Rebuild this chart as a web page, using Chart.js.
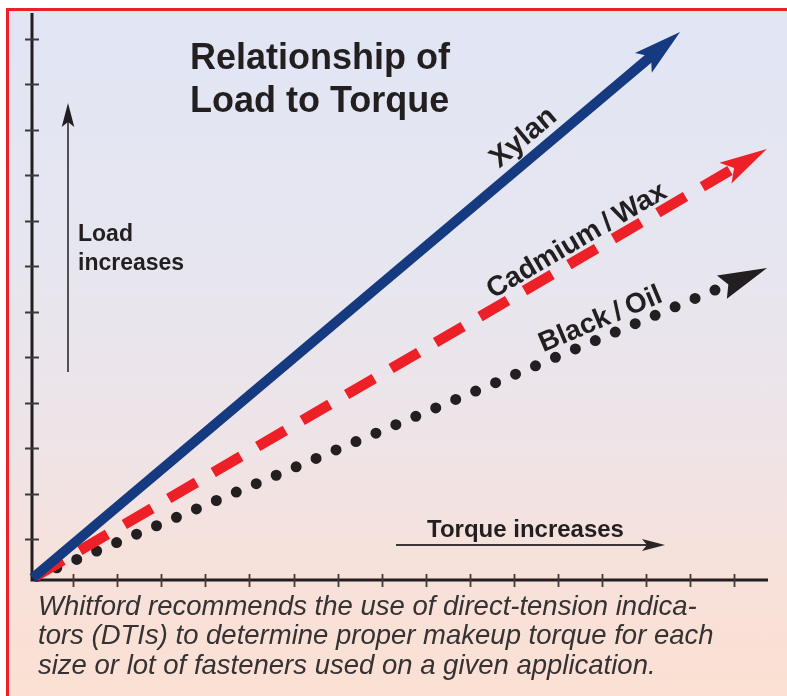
<!DOCTYPE html>
<html>
<head>
<meta charset="utf-8">
<script src="https://cdn.jsdelivr.net/npm/chart.js@4.4.1/dist/chart.umd.min.js"></script>
<style>
  html, body { margin: 0; padding: 0; background: #fff; }
  #frame {
    position: absolute; left: 6px; top: 8px; width: 781px; height: 688px;
    box-sizing: border-box;
    border-top: 3px solid #ee2027; border-left: 3px solid #ee2027;
    background: linear-gradient(to bottom, #e1e5f4 0%, #e6e6f0 35%, #eee4e8 62%, #f7e1da 82%, #fbe0d3 100%);
  }
  canvas { position: absolute; left: 0; top: 0; }
</style>
</head>
<body>
<div id="frame"></div>
<canvas id="myChart" width="787" height="696"></canvas>
<script>
// axis ticks (no numbers in the picture, just marks)
const torqueTicks = [1, 2, 3, 4, 5, 6, 7, 8, 9, 10, 11, 12, 13, 14, 15, 16];
const loadTicks = [1, 2, 3, 4, 5, 6, 7, 8, 9, 10, 11, 12];

const seriesNames = ['Xylan', 'Cadmium/Wax', 'Black/Oil'];
// start and end of each straight line, in tick units
const xylanTorque = [0.08, 14.15];
const xylanLoad = [0.15, 11.64];
const cadmiumTorque = [0.08, 16.04];
const cadmiumLoad = [0.15, 9.18];
const blackTorque = [0.08, 15.62];
const blackLoad = [0.15, 6.50];

const captionLines = [
  'Whitford recommends the use of direct-tension indica-',
  'tors (DTIs) to determine proper makeup torque for each',
  'size or lot of fasteners used on a given application.'
];

const FONT = '"Liberation Sans", Arial, sans-serif';
const INK = '#231f20';

function points(xs, ys) {
  return xs.map((v, i) => ({ x: v, y: ys[i] }));
}

function arrowHead(ctx, x, y, ang, reach, len, half, notch) {
  ctx.save();
  ctx.translate(x, y);
  ctx.rotate(ang);
  ctx.beginPath();
  ctx.moveTo(reach, 0);
  ctx.lineTo(reach - len, -half);
  ctx.lineTo(reach - len + notch, 0);
  ctx.lineTo(reach - len, half);
  ctx.closePath();
  ctx.fill();
  ctx.restore();
}

// axis lines with ticks crossing them
const axesPlugin = {
  id: 'axes',
  beforeDatasetsDraw(chart) {
    const { ctx, chartArea: a, scales: { x, y } } = chart;
    ctx.save();
    ctx.strokeStyle = INK;
    ctx.lineWidth = 3;
    ctx.beginPath();
    ctx.moveTo(a.left, a.top);
    ctx.lineTo(a.left, a.bottom);
    ctx.lineTo(a.right, a.bottom);
    ctx.stroke();
    ctx.strokeStyle = '#3d3a3b';
    ctx.lineWidth = 1.8;
    ctx.beginPath();
    torqueTicks.forEach(v => {
      const px = Math.round(x.getPixelForValue(v)) + 0.5;
      ctx.moveTo(px, a.bottom - 6);
      ctx.lineTo(px, a.bottom + 7);
    });
    loadTicks.forEach(v => {
      const py = Math.round(y.getPixelForValue(v)) + 0.5;
      ctx.moveTo(a.left - 7, py);
      ctx.lineTo(a.left + 7, py);
    });
    ctx.stroke();
    ctx.restore();
  }
};

// arrow heads at the end of every series, and the names along the lines
const lineDecor = {
  id: 'lineDecor',
  afterDatasetsDraw(chart, args, opts) {
    const { ctx, scales: { x, y } } = chart;
    chart.data.datasets.forEach((ds, i) => {
      const pts = chart.getDatasetMeta(i).data;
      const p = pts[pts.length - 1], q = pts[pts.length - 2];
      const ang = Math.atan2(p.y - q.y, p.x - q.x);
      const h = ds.head;
      ctx.fillStyle = ds.borderColor;
      arrowHead(ctx, p.x, p.y, ang, h.reach, h.len, h.half, h.notch);

      const lab = opts.labels[i];
      ctx.save();
      ctx.translate(x.getPixelForValue(lab.x), y.getPixelForValue(lab.y));
      ctx.rotate(ang);
      ctx.fillStyle = INK;
      ctx.font = 'bold ' + lab.size + 'px ' + FONT;
      ctx.textAlign = 'center';
      ctx.textBaseline = 'alphabetic';
      ctx.fillText(ds.label.replace('/', '\u2009/\u2009'), 0, 0);
      ctx.restore();
    });
  },
  afterDraw(chart) {
    const ctx = chart.ctx;
    ctx.save();
    ctx.fillStyle = INK;
    ctx.textAlign = 'left';
    ctx.textBaseline = 'alphabetic';
    ctx.font = 'bold 36px ' + FONT;
    ctx.fillText('Relationship of', 190, 69);
    ctx.fillText('Load to Torque', 190, 112);

    ctx.font = 'bold 23px ' + FONT;
    ctx.fillText('Load', 78, 241);
    ctx.fillText('increases', 78, 270);
    ctx.font = 'bold 24px ' + FONT;
    ctx.fillText('Torque increases', 427, 537);

    // vertical arrow
    ctx.strokeStyle = INK;
    ctx.lineWidth = 1.5;
    ctx.beginPath();
    ctx.moveTo(68, 372);
    ctx.lineTo(68, 120);
    ctx.stroke();
    arrowHead(ctx, 68, 103, -Math.PI / 2, 0, 24, 6.3, 5);
    // horizontal arrow
    ctx.strokeStyle = '#3a3637';
    ctx.fillStyle = '#2a2627';
    ctx.lineWidth = 2;
    ctx.beginPath();
    ctx.moveTo(396, 545);
    ctx.lineTo(650, 545);
    ctx.stroke();
    arrowHead(ctx, 665, 545, 0, 0, 23, 6, 5);

    ctx.fillStyle = '#353233';
    ctx.font = 'italic 27.5px ' + FONT;
    captionLines.forEach((t, i) => ctx.fillText(t, 38, 615 + i * 29.3));
    ctx.restore();
  }
};

const ctx = document.getElementById('myChart').getContext('2d');

const data = {
  datasets: [{
    label: seriesNames[0],
    data: points(xylanTorque, xylanLoad),
    borderColor: '#163a80',
    borderWidth: 10,
    borderCapStyle: 'butt',
    head: { reach: 36, len: 48, half: 13, notch: 10 }
  }, {
    label: seriesNames[1],
    data: points(cadmiumTorque, cadmiumLoad),
    borderColor: '#ee2027',
    borderWidth: 10.5,
    borderCapStyle: 'butt',
    borderDash: [32, 19.5],
    borderDashOffset: -3,
    head: { reach: 36, len: 48, half: 12, notch: 10 }
  }, {
    label: seriesNames[2],
    data: points(blackTorque, blackLoad),
    borderColor: INK,
    borderWidth: 11,
    borderCapStyle: 'round',
    borderDash: [0, 21.65],
    borderDashOffset: -4.4,
    head: { reach: 54, len: 49, half: 12.7, notch: 7 }
  }]
};

const config = {
  type: 'line',
  data: data,
  options: {
    responsive: false,
    devicePixelRatio: 1,
    animation: false,
    events: [],
    layout: { padding: { left: 32, top: 13, right: 19, bottom: 116 } },
    elements: {
      point: { radius: 0 },
      line: { tension: 0, fill: false }
    },
    datasets: { line: { clip: false } },
    scales: {
      x: { type: 'linear', display: false, min: 0.0624, max: 16.771 },
      y: { type: 'linear', display: false, min: 0.1055, max: 12.567 }
    },
    plugins: {
      legend: { display: false },
      tooltip: { enabled: false },
      lineDecor: {
        labels: [
          { x: 11.34, y: 9.69, size: 29 },
          { x: 12.52, y: 7.41, size: 28 },
          { x: 13.04, y: 5.67, size: 28 }
        ]
      }
    }
  },
  plugins: [axesPlugin, lineDecor]
};

const myChart = new Chart(ctx, config);
</script>
</body>
</html>
